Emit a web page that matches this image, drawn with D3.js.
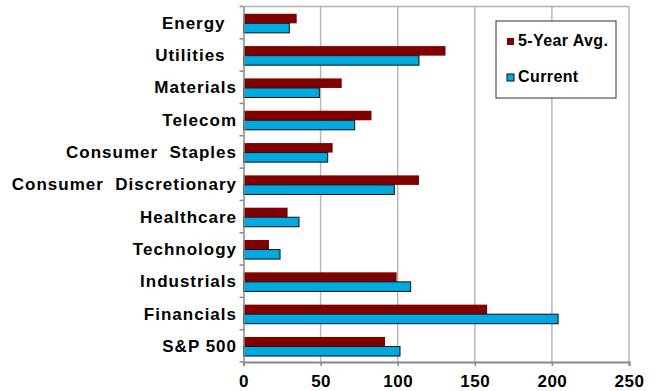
<!DOCTYPE html>
<html>
<head>
<meta charset="utf-8">
<script src="https://cdn.jsdelivr.net/npm/d3@7"></script>
<style>
  body { margin: 0; background: #fff; }
  text { font-family: "Liberation Sans", Arial, sans-serif; font-weight: bold; fill: #000; }
</style>
</head>
<body>
<div id="chart"></div>
<script>
// sector names, top to bottom (trailing spaces kept as in the original labels)
var sectors = ["Energy  ", "Utilities  ", "Materials", "Telecom", "Consumer  Staples",
  "Consumer  Discretionary", "Healthcare", "Technology", "Industrials", "Financials", "S&P 500"];
var seriesNames = ["5-Year Avg.", "Current"];
var avg5 = [34.5, 131, 63.7, 83, 57.8, 113.8, 28.6, 16.5, 99.3, 158, 91.8];
var current = [29.7, 113.8, 49.2, 72.1, 54.6, 97.8, 36, 23.7, 108.4, 204, 101.5];
var xTicks = [0, 50, 100, 150, 200, 250];
var colors = ["#800000", "#00a9e0"];

var svg_dx = 659, svg_dy = 391;
var margin = { top: 6.5, right: 30, bottom: 29, left: 243.5 };

var svg = d3.select("#chart").append("svg")
  .attr("width", svg_dx)
  .attr("height", svg_dy);

var x = d3.scaleLinear().domain([0, 250]).range([margin.left, 629]);
var y = d3.scaleBand().domain(sectors).range([margin.top, svg_dy - margin.bottom])
  .paddingInner(0.41).paddingOuter(0.205).align(0.55);
var ySub = d3.scaleBand().domain(seriesNames).range([0, y.bandwidth()]);

var rows = sectors.map(function(s, i) {
  return { name: s, values: [avg5[i], current[i]] };
});

// grid lines
svg.append("g")
  .selectAll("line")
  .data(xTicks.slice(1))
  .enter().append("line")
  .attr("x1", d => x(d)).attr("x2", d => x(d))
  .attr("y1", margin.top).attr("y2", svg_dy - margin.bottom)
  .attr("stroke", "#b8b8b8")
  .attr("stroke-width", 1.5);

// top border of plot
svg.append("line")
  .attr("x1", x(0)).attr("x2", x(250))
  .attr("y1", margin.top).attr("y2", margin.top)
  .attr("stroke", "#b0b0b0").attr("stroke-width", 1.5);

// bars
var groups = svg.append("g").selectAll("g")
  .data(rows)
  .enter().append("g")
  .attr("transform", d => "translate(0," + y(d.name) + ")");

groups.selectAll("rect")
  .data(d => d.values.map((v, j) => ({ key: seriesNames[j], v: v, j: j })))
  .enter().append("rect")
  .attr("x", x(0))
  .attr("y", d => ySub(d.key))
  .attr("width", d => x(d.v) - x(0))
  .attr("height", ySub.bandwidth())
  .attr("fill", d => colors[d.j])
  .attr("stroke", d => d.j === 1 ? "#111" : "none")
  .attr("stroke-width", 1);

// y axis
var yAxis = svg.append("g")
  .attr("transform", "translate(" + x(0) + ",0)")
  .call(d3.axisLeft(y).tickSize(0).tickPadding(6.5));
yAxis.select(".domain").attr("stroke", "#888").attr("stroke-width", 1.5);
yAxis.selectAll("text")
  .style("font-size", "17px")
  .style("letter-spacing", "1px")
  .style("white-space", "pre");

// category separator ticks
svg.append("g").selectAll("line")
  .data(d3.range(sectors.length + 1))
  .enter().append("line")
  .attr("x1", x(0) - 4).attr("x2", x(0))
  .attr("y1", i => margin.top + i * y.step())
  .attr("y2", i => margin.top + i * y.step())
  .attr("stroke", "#888").attr("stroke-width", 1.5);

// x axis
var xAxis = svg.append("g")
  .attr("transform", "translate(0," + (svg_dy - margin.bottom) + ")")
  .call(d3.axisBottom(x).tickValues(xTicks).tickSize(4).tickPadding(9));
xAxis.select(".domain").attr("stroke", "#888").attr("stroke-width", 2);
xAxis.selectAll(".tick line").attr("stroke", "#888").attr("stroke-width", 1.5);
xAxis.selectAll("text").style("font-size", "17px").style("letter-spacing", "0.5px");

// legend
var legend = svg.append("g").attr("transform", "translate(496,21)");
legend.append("rect")
  .attr("width", 120).attr("height", 77)
  .attr("fill", "#fff").attr("stroke", "#333").attr("stroke-width", 1);
seriesNames.forEach(function(name, j) {
  var row = legend.append("g").attr("transform", "translate(11," + (17 + j * 36) + ")");
  row.append("rect")
    .attr("width", 7).attr("height", 7)
    .attr("fill", colors[j])
    .attr("stroke", j === 1 ? "#111" : "none");
  row.append("text")
    .attr("x", 11).attr("y", 8)
    .style("font-size", "16px")
    .style("letter-spacing", "0.4px")
    .text(name);
});
</script>
</body>
</html>
